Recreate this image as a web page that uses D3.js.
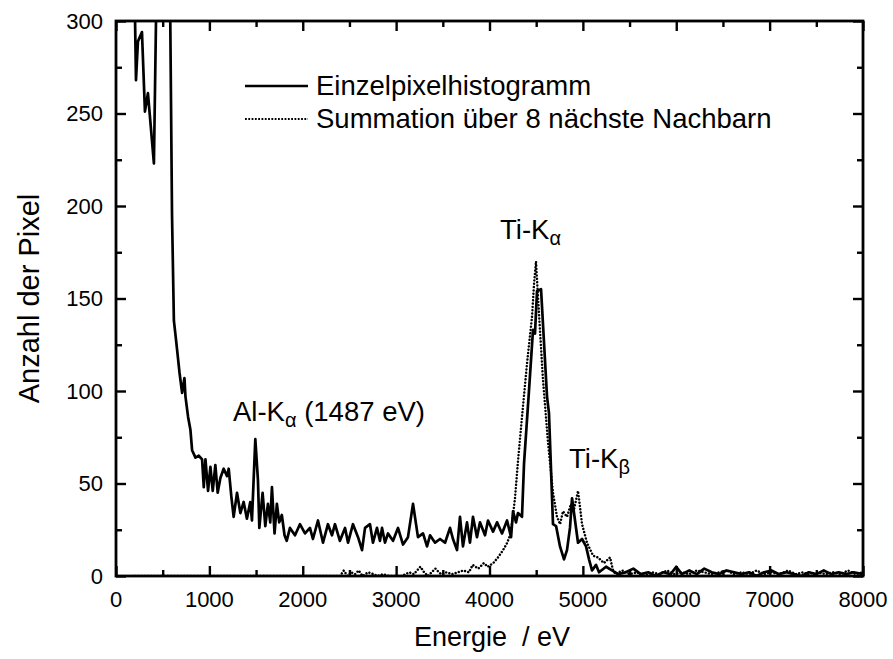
<!DOCTYPE html>
<html>
<head>
<meta charset="utf-8">
<script src="https://cdn.jsdelivr.net/npm/d3@7"></script>
<style>
  body { margin: 0; background: #fff; }
  text { font-family: "Liberation Sans", Arial, Helvetica, sans-serif; fill: #000; }
</style>
</head>
<body>
<svg id="chart" width="893" height="659"></svg>
<script>
// Axis ticks
const xMajorTicks = [0, 1000, 2000, 3000, 4000, 5000, 6000, 7000, 8000];
const xMinorTicks = [500, 1500, 2500, 3500, 4500, 5500, 6500, 7500];
const yMajorTicks = [0, 50, 100, 150, 200, 250, 300];
const yMinorTicks = [25, 75, 125, 175, 225, 275];

// Single-pixel histogram (energy in eV, pixel count)
const singleEnergy = [195, 214, 235, 278, 310, 342, 406, 440, 480, 520, 560, 600, 620, 640, 655, 680, 708, 733, 744, 772,
  797, 815, 851, 886, 922, 940, 958, 986, 1011, 1036, 1064, 1089, 1118, 1153, 1189, 1207, 1235, 1260, 1296, 1332,
  1367, 1402, 1438, 1456, 1492, 1520, 1535, 1570, 1599, 1627, 1652, 1670, 1698, 1723, 1748, 1776, 1805, 1828, 1863, 1917,
  1970, 2024, 2077, 2109, 2163, 2217, 2270, 2313, 2345, 2398, 2453, 2485, 2538, 2592, 2635, 2667, 2720, 2752, 2795, 2827,
  2849, 2881, 2913, 2967, 3020, 3074, 3127, 3181, 3234, 3288, 3331, 3363, 3417, 3470, 3524, 3577, 3609, 3652, 3684, 3716,
  3759, 3791, 3823, 3866, 3898, 3952, 3984, 4038, 4081, 4134, 4188, 4231, 4252, 4284, 4305, 4348, 4370, 4420, 4466, 4487,
  4509, 4552, 4616, 4637, 4680, 4713, 4755, 4798, 4830, 4862, 4884, 4916, 4948, 4991, 5034, 5066, 5098, 5141, 5173, 5248,
  5312, 5380, 5460, 5540, 5620, 5700, 5780, 5860, 5940, 6000, 6060, 6140, 6220, 6300, 6380, 6460, 6540, 6620, 6700, 6780,
  6860, 6940, 7020, 7100, 7180, 7260, 7340, 7420, 7500, 7580, 7660, 7740, 7820, 7900, 8000];
const singleCounts = [330, 268, 289, 294, 251, 261, 223, 340, 420, 450, 420, 195, 138, 129, 122, 110, 99, 107, 97, 86,
  79, 68, 64, 65, 63, 48, 63, 46, 59, 46, 60, 45, 53, 58, 54, 58, 43, 32, 45, 34,
  40, 31, 40, 30, 74, 52, 26, 45, 27, 39, 29, 48, 23, 39, 29, 33, 22, 19, 26, 22,
  28, 23, 26, 20, 30, 18, 28, 22, 28, 19, 26, 18, 28, 21, 14, 26, 28, 18, 26, 19,
  26, 18, 23, 19, 26, 17, 21, 39, 21, 23, 16, 22, 18, 20, 18, 26, 20, 14, 32, 16,
  29, 18, 32, 21, 29, 22, 30, 24, 29, 23, 30, 21, 35, 29, 34, 32, 61, 98, 133, 131,
  154, 155, 97, 88, 28, 27, 16, 9, 14, 26, 42, 30, 18, 20, 16, 9, 3, 6, 2, 5,
  3, 1, 2, 4, 1, 2, 0, 2, 1, 5, 1, 3, 1, 4, 2, 1, 3, 2, 1, 2,
  0, 2, 3, 1, 2, 1, 0, 2, 1, 3, 1, 2, 1, 2, 1];

// Sum over the 8 nearest neighbours (energy in eV, pixel count)
const summedEnergy = [200, 600, 1000, 1400, 1800, 2200, 2400, 2440, 2480, 2520, 2560, 2600, 2640, 2700, 2760, 2800, 2860, 2920, 3000, 3060,
  3140, 3190, 3260, 3300, 3340, 3420, 3480, 3540, 3600, 3660, 3720, 3780, 3820, 3880, 3940, 3980, 4040, 4090, 4145, 4190,
  4220, 4245, 4273, 4305, 4348, 4402, 4455, 4477, 4498, 4509, 4530, 4573, 4627, 4680, 4723, 4755, 4787, 4830, 4873, 4905,
  4948, 4970, 4991, 5044, 5109, 5162, 5226, 5291, 5323, 5350, 5420, 5500, 5580, 5660, 5740, 5820, 5900, 5980, 6060, 6140,
  6220, 6300, 6380, 6460, 6540, 6620, 6700, 6780, 6860, 6940, 7020, 7100, 7200, 7280, 7360, 7440, 7520, 7600, 7680, 7760,
  7840, 7920, 8000];
const summedCounts = [0, 0, 0, 0, 0, 0, 0, 3, 0, 2, 1, 3, 0, 2, 1, 0, 1, 0, 0, 0,
  2, 1, 5, 2, 0, 4, 1, 2, 1, 2, 3, 2, 6, 4, 7, 5, 7, 10, 14, 18,
  22, 30, 42, 62, 86, 115, 140, 158, 170, 160, 142, 106, 72, 45, 32, 28, 35, 32, 39, 36,
  46, 37, 28, 18, 11, 10, 7, 10, 3, 1, 3, 1, 2, 0, 2, 1, 3, 1, 2, 1,
  3, 2, 1, 2, 3, 1, 2, 1, 3, 1, 2, 1, 3, 1, 2, 0, 2, 1, 2, 1,
  3, 1, 2];

const legendLabels = ["Einzelpixelhistogramm", "Summation über 8 nächste Nachbarn"];

const plot = { left: 116, right: 863, top: 21, bottom: 576 };
const x = d3.scaleLinear().domain([0, 8000]).range([plot.left, plot.right]);
const y = d3.scaleLinear().domain([0, 300]).range([plot.bottom, plot.top]);

const svg = d3.select("#chart");

svg.append("defs").append("clipPath").attr("id", "plot-clip")
  .append("rect")
  .attr("x", plot.left).attr("y", plot.top)
  .attr("width", plot.right - plot.left).attr("height", plot.bottom - plot.top);

const line = d3.line().x(d => x(d[0])).y(d => y(d[1]));

// Summed spectrum (dotted)
svg.append("path")
  .datum(d3.zip(summedEnergy, summedCounts))
  .attr("clip-path", "url(#plot-clip)")
  .attr("d", line)
  .attr("fill", "none")
  .attr("stroke", "#000")
  .attr("stroke-width", 2.5)
  .attr("stroke-linecap", "round")
  .attr("stroke-dasharray", "0.01 3.3");

// Single-pixel spectrum (solid)
svg.append("path")
  .datum(d3.zip(singleEnergy, singleCounts))
  .attr("clip-path", "url(#plot-clip)")
  .attr("d", line)
  .attr("fill", "none")
  .attr("stroke", "#000")
  .attr("stroke-width", 2.7)
  .attr("stroke-linejoin", "round");

// Inward ticks on all four sides
function ticks(axis, transform, values, size) {
  const g = svg.append("g")
    .attr("transform", transform)
    .call(axis.tickValues(values).tickSize(size).tickFormat(""));
  g.select(".domain").remove();
  g.selectAll(".tick line").attr("stroke", "#000").attr("stroke-width", 2.4);
  return g;
}
ticks(d3.axisBottom(x), `translate(0,${plot.bottom})`, xMajorTicks, -10);
ticks(d3.axisBottom(x), `translate(0,${plot.bottom})`, xMinorTicks, -6);
ticks(d3.axisTop(x), `translate(0,${plot.top})`, xMajorTicks, -10);
ticks(d3.axisTop(x), `translate(0,${plot.top})`, xMinorTicks, -6);
ticks(d3.axisLeft(y), `translate(${plot.left},0)`, yMajorTicks, -10);
ticks(d3.axisLeft(y), `translate(${plot.left},0)`, yMinorTicks, -6);
ticks(d3.axisRight(y), `translate(${plot.right},0)`, yMajorTicks, -10);
ticks(d3.axisRight(y), `translate(${plot.right},0)`, yMinorTicks, -6);

// Tick labels
svg.append("g").selectAll("text").data(xMajorTicks).join("text")
  .attr("x", d => x(d)).attr("y", plot.bottom + 31)
  .attr("text-anchor", "middle").attr("font-size", 22)
  .text(d => d);
svg.append("g").selectAll("text").data(yMajorTicks).join("text")
  .attr("x", plot.left - 13).attr("y", d => y(d))
  .attr("dy", "0.35em")
  .attr("text-anchor", "end").attr("font-size", 22)
  .text(d => d);

// Frame
svg.append("rect")
  .attr("x", plot.left).attr("y", plot.top)
  .attr("width", plot.right - plot.left).attr("height", plot.bottom - plot.top)
  .attr("fill", "none").attr("stroke", "#000").attr("stroke-width", 2.8);

// Axis titles
svg.append("text")
  .attr("x", 492).attr("y", 646)
  .attr("text-anchor", "middle").attr("font-size", 27)
  .style("white-space", "pre")
  .text("Energie  / eV");
svg.append("text")
  .attr("transform", `translate(39,${(plot.top + plot.bottom) / 2}) rotate(-90)`)
  .attr("text-anchor", "middle").attr("font-size", 29)
  .text("Anzahl der Pixel");

// Legend
const legend = svg.append("g");
legendLabels.forEach((label, i) => {
  const ly = 86 + i * 33;
  legend.append("line")
    .attr("x1", 245).attr("x2", 308).attr("y1", ly).attr("y2", ly)
    .attr("stroke", "#000")
    .attr("stroke-width", i === 0 ? 2.7 : 2)
    .attr("stroke-dasharray", i === 0 ? null : "1.8 1.5");
  legend.append("text")
    .attr("x", 316).attr("y", ly + 9)
    .attr("font-size", 27.5)
    .text(label);
});

// Peak annotations with subscripts
function peakLabel(px, py, main, sub, tail) {
  const t = svg.append("text").attr("x", px).attr("y", py).attr("font-size", 27.5);
  t.append("tspan").text(main);
  t.append("tspan").attr("font-size", 20).attr("dy", 6).text(sub);
  if (tail) t.append("tspan").attr("dy", -6).style("white-space", "pre").text(tail);
}
peakLabel(233, 421, "Al-K", "α", " (1487 eV)");
peakLabel(500, 239, "Ti-K", "α");
peakLabel(569, 468, "Ti-K", "β");
</script>
</body>
</html>
